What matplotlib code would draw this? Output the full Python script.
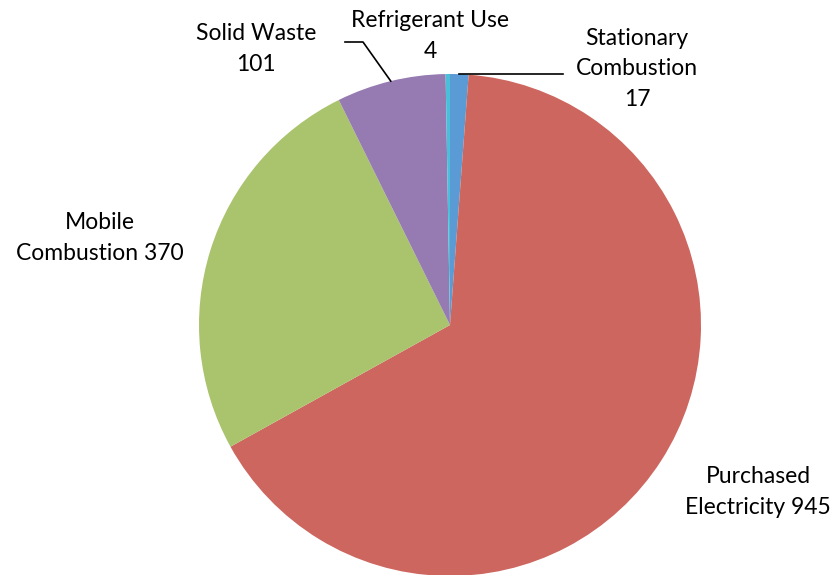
import numpy as np
import matplotlib.pyplot as plt

## ------------------
## Data
## ------------------
categories = ["Stationary\nCombustion\n17", "Purchased\nElectricity 945", "Mobile\nCombustion 370",
              "Solid Waste\n101", "Refrigerant Use\n4"]
values = [17, 945, 370, 101, 4]
colors = ["#5B9BD5", "#CD665F", "#AAC46D", "#957BB1", "#4BBFDA"]

## label positions in pixel coords (y up)
label_pos = [(637, 506), (758, 83), (100, 337), (256, 526), (430, 539)]

W, H = 837, 575
cx, cy, r = 450, 250, 251

fig = plt.figure(figsize=(W / 100, H / 100), dpi=100)
ax = fig.add_axes([0, 0, 1, 1])

wedges, _ = ax.pie(values, colors=colors, startangle=90, counterclock=False,
                   center=(cx, cy), radius=r, frame=True,
                   wedgeprops=dict(linewidth=0))
ax.set_xlim(0, W)
ax.set_ylim(0, H)
ax.set_aspect("equal")
ax.axis("off")

for lab, (x, y) in zip(categories, label_pos):
    ax.text(x, y, lab, ha="center", va="center", fontsize=16.5, family="Lato",
            linespacing=1.55, color="black")

## leader lines from wedge midpoints
def edge_point(w):
    ang = np.deg2rad((w.theta1 + w.theta2) / 2)
    return cx + r * np.cos(ang), cy + r * np.sin(ang)

x0, y0 = edge_point(wedges[0])
ax.plot([x0, 563], [y0, y0], color="black", lw=1.2)

x0, y0 = edge_point(wedges[3])
ax.plot([x0, 363, 345], [y0, 533, 533], color="black", lw=1.2)

fig.savefig("out.png", dpi=100)
